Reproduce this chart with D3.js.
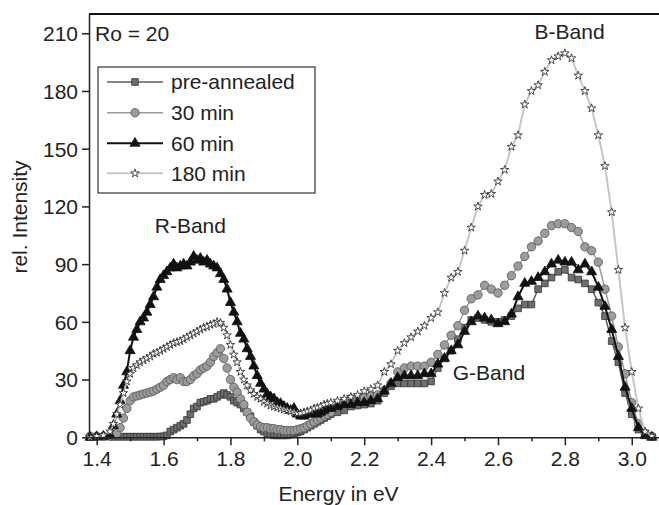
<!DOCTYPE html>
<html>
<head>
<meta charset="utf-8">
<script src="https://cdn.jsdelivr.net/npm/d3@7/dist/d3.min.js"></script>
<style>
body { margin: 0; background: #fff; }
svg { font-family: "Liberation Sans", Arial, sans-serif; }
.axis text { font-size: 21px; fill: #222; }
.axis path, .axis line { stroke: #222; stroke-width: 1.5px; }
.lbl { font-size: 21px; fill: #222; }
</style>
</head>
<body>
<script>
// photon energy (eV), shared by all four spectra
var energy = [1.38,1.40,1.42,
  1.44,1.45,1.46,1.47,1.48,1.49,1.50,1.51,1.52,1.53,1.54,1.55,1.56,1.57,1.58,1.59,
  1.60,1.61,1.62,1.63,1.64,1.65,1.66,1.67,1.68,1.69,
  1.70,1.71,1.72,1.73,1.74,1.75,1.76,1.77,1.78,1.79,
  1.80,1.81,1.82,1.83,1.84,1.85,1.86,1.87,1.88,1.89,
  1.90,1.91,1.92,1.93,1.94,1.95,1.96,1.97,1.98,1.99,
  2.00,2.01,2.02,2.03,2.04,2.05,2.06,2.07,2.08,2.09,2.10,
  2.12,2.14,2.16,2.18,2.20,2.22,2.24,2.26,2.28,2.30,
  2.32,2.34,2.36,2.38,2.40,2.42,2.44,2.46,2.48,2.50,
  2.52,2.54,2.56,2.58,2.60,2.62,2.64,2.66,2.68,2.70,
  2.72,2.74,2.76,2.78,2.80,2.82,2.84,2.86,2.88,2.90,
  2.92,2.94,2.96,2.98,3.00,3.02,3.04,3.06];

var preAnnealed = [0.2,0.3,0.3,
  0.3,0.3,0.3,0.3,0.3,0.3,0.3,0.3,0.3,0.3,0.3,0.3,0.3,0.3,0.3,0.4,
  0.5,1,3,4,5,6,7,9,12,15,
  16,18,18.5,19,20,20,21,22,23,22,
  21,19,18,17,15,13,11,8,6,4,
  3,2,1.5,1,1,1,1,1,1.5,2,
  2.5,3,4,5,6,7,8,9,10,11,12,
  13,14,16,16.5,17,17.5,19,23,26.5,28,
  28,28,28,28,29,36,41,45,51,57,
  61,62,61,60,60,61,63,67,69,69,
  77,80,83,86,87,83,82,80,77,70,
  63,50,39,23,12,4,1,0.3];

var min30 = [0.5,0.5,0.5,
  0.8,1,2,5,10,15,19,21,21.5,22,22.5,23,23.5,24,25,26,
  27,29,30,31,30,31,29,29,30,32,
  33,35,36,37,39,42,44,46,41,36,
  30,26,23.5,20,17,13,10,8,6.5,5.5,
  5,5,4.5,4.5,4,4,3.5,3.5,3.5,3.5,
  4,4.5,5,6,7,8,9,10,11,12,13,
  16,18,20,20.5,21,21.5,22,24.5,28,34,
  36,37,37,37,39,43,48,53,58,66,
  72,74,79,77,75,79,84,89,94,99,
  102,106,110,111,111,109,107,99,97,91,
  77,63,47,33,18,7,2,0.5];

var min60 = [0,0.3,0.5,
  1,6,12,19,27,34,45,52,56,60,62,65,69,73,78,82,
  84,86,88,90,88,89,90,89,91,94,
  92,93,91,92,90,89,88,85,82,77,
  70,65,60,54,51,46,42,37,32,28,
  25,22.5,21,20,18,17.5,16,15,14,15,
  12,11,11,12,12,13,12,13,14,15,15,
  16,17,17,18,18,19,20,24,28,31,
  32,32,32,33,33,38,41,45,48,55,
  60,63,62,61,59,60,64,73,80,81,
  83,86,90,92,91,91,87,90,86,78,
  68,56,42,26,15,5,1,0];

var min180 = [0,0.5,1,
  3,7,12,17,23,29,33,36,37.5,39,40,41,42,43.5,44,45,
  46,47,48,49,49.5,50,51,52,53,54,
  55,56,57,57.5,58.5,59,60,59.5,57,53,
  48,43,39,34,30,27,24.5,22.5,21,20,
  18.5,17.5,16.5,16,15.5,15,14.5,14,13.5,13,
  12.5,12.5,13,13.5,14,15,15.5,16,17,17.5,18,
  19,20,21,22,24,25,27,34,38,45,
  49,52,55,58,62,65,75,83,86,97,
  109,120,126,126.5,133,139,151,157,173,180,
  183,190,196,198,199.6,197,188,180,171,157,
  141,117,87,57,34,15,3,0.5];

var seriesNames = ["pre-annealed", "30 min", "60 min", "180 min"];
var xTicks = [1.4, 1.6, 1.8, 2.0, 2.2, 2.4, 2.6, 2.8, 3.0];
var xMinorTicks = [1.5, 1.7, 1.9, 2.1, 2.3, 2.5, 2.7, 2.9];
var yTicks = [0, 30, 60, 90, 120, 150, 180, 210];
</script>

<script>
var width = 659, height = 505;
// plot frame (px)
var pl = 89, pr = 659, pt = 14, pb = 437.3;

var x = d3.scaleLinear().domain([1.377, 3.0815]).range([pl, pr]);
var y = d3.scaleLinear().domain([0, 220]).range([pb, pt]);

var svg = d3.select("body").append("svg")
    .attr("width", width)
    .attr("height", height);

// styles per series
var styles = [
  {vals: preAnnealed, line: "#5c5c5c", lw: 1.5, sym: d3.symbolSquare, size: 44, fill: "#6e6e6e", stroke: "#333"},
  {vals: min30,       line: "#9a9a9a", lw: 1.5, sym: d3.symbolCircle, size: 56, fill: "#9c9c9c", stroke: "#555"},
  {vals: min60,       line: "#111",    lw: 2,   sym: d3.symbolTriangle, size: 44, fill: "#111", stroke: "#111"},
  {vals: min180,      line: "#c6c6c6", lw: 2,   sym: d3.symbolStar, size: 22, fill: "#fff", stroke: "#222"}
];

var line = d3.line().x(d => x(d.x)).y(d => y(d.y));

styles.forEach(function(s) {
  var pts = energy.map((e, i) => ({x: e, y: s.vals[i]}));
  var g = svg.append("g");
  g.append("path")
    .datum(pts)
    .attr("fill", "none")
    .attr("stroke", s.line)
    .attr("stroke-width", s.lw)
    .attr("d", line);
  g.selectAll("path.m")
    .data(pts)
    .enter().append("path")
    .attr("class", "m")
    .attr("transform", d => "translate(" + x(d.x) + "," + y(d.y) + ")")
    .attr("d", d3.symbol().type(s.sym).size(s.size))
    .attr("fill", s.fill)
    .attr("stroke", s.stroke)
    .attr("stroke-width", 0.8);
});

// axes
var xAxis = svg.append("g").attr("class", "axis")
    .attr("transform", "translate(0," + pb + ")")
    .call(d3.axisBottom(x).tickValues(xTicks).tickSize(8).tickSizeOuter(0)
        .tickFormat(d3.format(".1f")));
xAxis.selectAll("text").attr("dy", null).attr("y", 29);

svg.append("g").attr("class", "axis")
    .attr("transform", "translate(0," + pb + ")")
    .call(d3.axisBottom(x).tickValues(xMinorTicks).tickSize(4).tickFormat(""))
    .select(".domain").remove();

var yAxis = svg.append("g").attr("class", "axis")
    .attr("transform", "translate(" + pl + ",0)")
    .call(d3.axisLeft(y).tickValues(yTicks).tickSize(7).tickSizeOuter(0));
yAxis.selectAll("text").attr("x", -11).attr("dy", "0.35em");

// top frame line
svg.append("line")
    .attr("x1", pl).attr("x2", pr)
    .attr("y1", pt).attr("y2", pt)
    .attr("stroke", "#111").attr("stroke-width", 2.2);

// axis titles
svg.append("text").attr("class", "lbl")
    .attr("x", 338.5).attr("y", 501)
    .attr("text-anchor", "middle")
    .text("Energy in eV");
svg.append("text").attr("class", "lbl")
    .attr("transform", "translate(27,217) rotate(-90)")
    .attr("text-anchor", "middle")
    .text("rel. Intensity");

// annotations
svg.append("text").attr("class", "lbl").attr("x", 95).attr("y", 41).text("Ro = 20");
svg.append("text").attr("class", "lbl").attr("text-anchor", "middle")
    .attr("x", x(1.68)).attr("y", y(106)).text("R-Band");
svg.append("text").attr("class", "lbl").attr("text-anchor", "middle")
    .attr("x", x(2.573)).attr("y", y(29.8)).text("G-Band");
svg.append("text").attr("class", "lbl").attr("text-anchor", "middle")
    .attr("x", x(2.814)).attr("y", y(206.8)).text("B-Band");

// legend
var lg = svg.append("g");
lg.append("rect")
    .attr("x", 98).attr("y", 67).attr("width", 217).attr("height", 126)
    .attr("fill", "#fff").attr("stroke", "#333").attr("stroke-width", 1.2);
var rowY = [82, 112.7, 143.3, 173.3];
seriesNames.forEach(function(name, i) {
  var s = styles[i];
  lg.append("line")
    .attr("x1", 107).attr("x2", 163).attr("y1", rowY[i]).attr("y2", rowY[i])
    .attr("stroke", s.line).attr("stroke-width", s.lw);
  lg.append("path")
    .attr("transform", "translate(135," + rowY[i] + ")")
    .attr("d", d3.symbol().type(s.sym).size(s.size))
    .attr("fill", s.fill).attr("stroke", s.stroke).attr("stroke-width", 0.8);
  lg.append("text").attr("class", "lbl")
    .attr("x", 171).attr("y", rowY[i]).attr("dy", "0.35em")
    .text(name);
});
</script>
</body>
</html>
